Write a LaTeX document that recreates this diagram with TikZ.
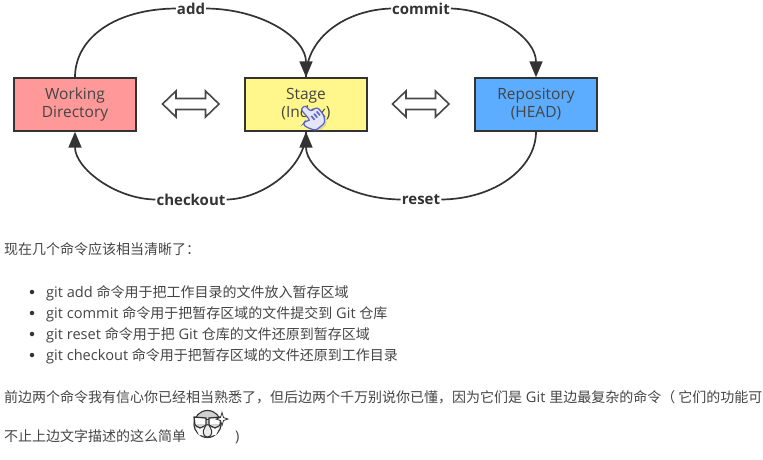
\documentclass[tikz,border=0pt]{standalone}
\usepackage{fontspec}
\setmainfont{Open Sans}
\newfontfamily\cjk{Noto Sans CJK SC}
\usetikzlibrary{arrows.meta}
\definecolor{ink}{HTML}{333333}
\definecolor{txt}{HTML}{444444}
\definecolor{handline}{HTML}{5A62C8}
\definecolor{handfill}{HTML}{E4E6FA}
\newcommand{\zh}[1]{{\cjk\fontsize{14}{17}\selectfont #1}}
\tikzset{
  box/.style={draw=ink,line width=1.4pt,minimum width=122pt,minimum height=53pt,inner sep=0pt,align=center,text=txt,font=\fontsize{15.5}{18}\selectfont},
  link/.style={draw=ink,line width=1.7pt},
  tipped/.style={link,-{Triangle[length=16pt,width=13pt]}},
  cmd/.style={font=\fontsize{15}{18}\selectfont\bfseries,text=ink,inner sep=1pt},
  para/.style={anchor=base west,inner sep=0pt,text=txt,font=\fontsize{14.6}{17}\selectfont},
  bullet/.style={circle,fill=ink,minimum size=4.5pt,inner sep=0pt},
  twoway/.style={draw=ink!90,fill=white,line width=1.6pt,line join=miter}
}
\begin{document}
\begin{tikzpicture}[x=1pt,y=-1pt]
\useasboundingbox (0,0) rectangle (763,459);
% boxes
\node[box,fill={rgb,255:red,255;green,153;blue,153}] (wd) at (75,104.5) {Working\\Directory};
\node[box,fill={rgb,255:red,255;green,247;blue,140}] (st) at (306,104.5) {Stage\\(Index)};
\node[box,fill={rgb,255:red,92;green,172;blue,255}] (rp) at (536,104.5) {Repository\\(HEAD)};
% command labels
\node[cmd] (add) at (191,8.5) {add};
\node[cmd] (commit) at (421,8.5) {commit};
\node[cmd] (checkout) at (191,199.5) {checkout};
\node[cmd] (reset) at (421,199.5) {reset};
% connectors
\draw[link] (wd.north) .. controls (75,38) and (115,9) .. (add.west);
\draw[tipped] (add.east) .. controls (262,9) and (306,38) .. (st.north);
\draw[link] (st.north) .. controls (306,38) and (345,10) .. (commit.west);
\draw[tipped] (commit.east) .. controls (495,10) and (536,38) .. (rp.north);
\draw[link] (st.south) .. controls (306,168) and (262,199) .. (checkout.east);
\draw[tipped] (checkout.west) .. controls (115,199) and (75,168) .. (wd.south);
\draw[link] (rp.south) .. controls (536,168) and (495,199) .. (reset.east);
\draw[tipped] (reset.west) .. controls (345,199) and (306,168) .. (st.south);
% two-way arrows
\draw[twoway] (162.5,104) -- (176,91) -- (176,98.5) -- (205.5,98.5) -- (205.5,91) -- (219,104) -- (205.5,117) -- (205.5,109.5) -- (176,109.5) -- (176,117) -- cycle;
\draw[twoway] (392.5,104) -- (406,91) -- (406,98.5) -- (435.5,98.5) -- (435.5,91) -- (449,104) -- (435.5,117) -- (435.5,109.5) -- (406,109.5) -- (406,117) -- cycle;
% hand cursor
\begin{scope}[shift={(314,120)},rotate=40]
\fill[handline,opacity=.2,rounded corners=2.5pt]
 (-3,-14) -- (3,-14) -- (3,-6) -- (11,-5) -- (11,5) -- (7,12) -- (-5,12) -- (-10,4) -- (-11,-1) -- (-7,-2) -- (-3,1) -- cycle;
\end{scope}
\begin{scope}[shift={(312,118)},rotate=40]
\draw[draw=handline,fill=handfill,line width=1.2pt,rounded corners=2.5pt]
 (-3,-14) -- (3,-14) -- (3,-6) -- (11,-5) -- (11,5) -- (7,12) -- (-5,12) -- (-10,4) -- (-11,-1) -- (-7,-2) -- (-3,1) -- cycle;
\fill[handline] (0,-2) rectangle (1.6,3) (3.5,-2) rectangle (5.1,3) (7,-2) rectangle (8.6,3);
\end{scope}
% text
\node[para] (l0) at (4,254.5) {\zh{现在几个命令应该相当清晰了：}};
\node[bullet] (b1) at (32,292) {};
\node[bullet] (b2) at (32,313) {};
\node[bullet] (b3) at (32,334) {};
\node[bullet] (b4) at (32,355) {};
\node[para] (l1) at (46,297) {git add \zh{命令用于把工作目录的文件放入暂存区域}};
\node[para] (l2) at (46,318) {git commit \zh{命令用于把暂存区域的文件提交到} Git \zh{仓库}};
\node[para] (l3) at (46,339) {git reset \zh{命令用于把} Git \zh{仓库的文件还原到暂存区域}};
\node[para] (l4) at (46,360) {git checkout \zh{命令用于把暂存区域的文件还原到工作目录}};
\node[para] (l5) at (4,402) {\zh{前边两个命令我有信心你已经相当熟悉了，但后边两个千万别说你已懂，因为它们是} Git \zh{里边最复杂的命令（ 它们的功能可}};
\node[para] (l6) at (4,441) {\zh{不止上边文字描述的这么简单}};
\node[para] (l7) at (235,441) {)};
% face
\draw[ink,line width=1.1pt,fill=black!18] (207.5,424) circle (13.5);
\fill[white] (196,428) -- (219,428) -- (216,435) -- (199,435) -- cycle;
\draw[ink,line width=1.3pt,fill=white] (194,417) -- (206,418) -- (206,425) -- (200,428) -- (195,425) -- cycle;
\draw[ink,line width=1.3pt,fill=white] (209,418) -- (221,417) -- (220,425) -- (215,428) -- (209,425) -- cycle;
\fill[black!18] (196,424) -- (205,424) -- (205,425) -- (200,427) -- cycle (210,424) -- (219,424) -- (219,425) -- (215,427) -- cycle;
\draw[ink,line width=1pt] (206,419) -- (209,419);
\draw[ink,line width=1pt,fill=black!8] (205,427) .. controls (205,424) and (210,424) .. (210,427) .. controls (213,431) and (212,437) .. (207.5,437) .. controls (203,437) and (202,431) .. (205,427) -- cycle;
\draw[ink,line width=.8pt,fill=white] (222,412.5) -- (223.5,417.5) -- (228,419) -- (223.5,420.5) -- (222,425.5) -- (220.5,420.5) -- (216,419) -- (220.5,417.5) -- cycle;
\end{tikzpicture}
\end{document}
